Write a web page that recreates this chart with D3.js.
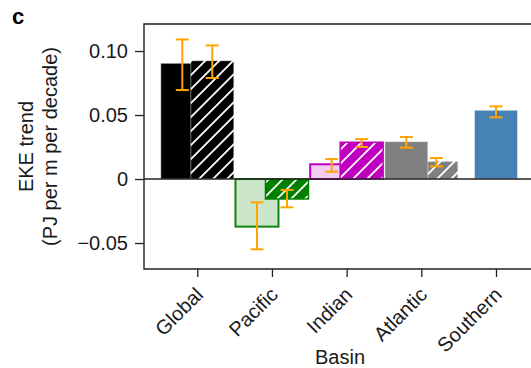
<!DOCTYPE html>
<html>
<head>
<meta charset="utf-8">
<script src="https://cdn.jsdelivr.net/npm/d3@7/dist/d3.min.js"></script>
<style>
  html, body { margin: 0; padding: 0; background: #fff; }
  svg { display: block; font-family: "Liberation Sans", Arial, Helvetica, sans-serif; }
</style>
</head>
<body>
<svg id="chart" width="531" height="368"></svg>
<script>
// Basin-mean EKE trends: full-period bars (solid) and comparison bars (hatched)
const basins = ["Global", "Pacific", "Indian", "Atlantic", "Southern"];

const solidValues = [0.0904, -0.0372, 0.0115, 0.0292, 0.0537];
const solidErrLow = [0.0695, -0.0549, 0.0057, 0.0245, 0.0482];
const solidErrHigh = [0.1090, -0.0182, 0.0156, 0.0328, 0.0568];

const hatchValues = [0.0924, -0.0156, 0.0287, 0.0138, null];
const hatchErrLow = [0.0789, -0.0221, 0.0250, 0.0099, null];
const hatchErrHigh = [0.1044, -0.0086, 0.0312, 0.0164, null];

// which of the pair sits in front, per basin
const frontLayer = ["hatch", "hatch", "hatch", "solid", "solid"];

const yTicks = [-0.05, 0, 0.05, 0.10];
const yTickLabels = ["\u22120.05", "0", "0.05", "0.10"];

const solidFill = ["#000000", "#cce6cc", "#f2ccf2", "#808080", "#4682b4"];
const solidStroke = ["rgba(255,255,255,0.45)", "#0f860f", "#bf00bf", "rgba(255,255,255,0.45)", "rgba(255,255,255,0.45)"];
const solidStrokeWidth = [1, 2, 2, 1, 1];
const hatchFill = ["#000000", "#008000", "#bf00bf", "#808080", null];

const svg = d3.select("#chart");
const plot = { left: 144, right: 536, top: 24, bottom: 269 };

const x = d3.scalePoint().domain(basins).range([197.3, 496]);
const y = d3.scaleLinear().domain([-0.0703, 0.1211]).range([plot.bottom, plot.top]);

const barW = 43;
const pairOffset = 15;

// white diagonal hatch patterns, one per fill colour
const defs = svg.append("defs");
const hp = 14;
hatchFill.forEach((c, i) => {
  if (!c) return;
  const p = defs.append("pattern")
    .attr("id", "hatch" + i)
    .attr("patternUnits", "userSpaceOnUse")
    .attr("width", hp).attr("height", hp);
  p.append("rect").attr("width", hp).attr("height", hp).attr("fill", c);
  p.append("path")
    .attr("d", `M-2,${hp + 2} L${hp + 2},-2 M-2,2 L2,-2 M${hp - 2},${hp + 2} L${hp + 2},${hp - 2}`)
    .attr("stroke", "#ffffff").attr("stroke-width", 1.8);
});

const clip = defs.append("clipPath").attr("id", "plotClip");
clip.append("rect").attr("x", plot.left).attr("y", plot.top)
  .attr("width", plot.right - plot.left).attr("height", plot.bottom - plot.top);

const g = svg.append("g").attr("clip-path", "url(#plotClip)");

function solidCx(i) { return hatchValues[i] == null ? x(basins[i]) : x(basins[i]) - pairOffset; }
function hatchCx(i) { return x(basins[i]) + pairOffset; }

function drawSolid(i) {
  const v = solidValues[i];
  g.append("rect")
    .attr("x", solidCx(i) - barW / 2)
    .attr("y", y(Math.max(0, v)))
    .attr("width", barW)
    .attr("height", Math.abs(y(v) - y(0)))
    .attr("fill", solidFill[i])
    .attr("stroke", solidStroke[i])
    .attr("stroke-width", solidStrokeWidth[i]);
}
function drawHatch(i) {
  const v = hatchValues[i];
  if (v == null) return;
  g.append("rect")
    .attr("x", hatchCx(i) - barW / 2)
    .attr("y", y(Math.max(0, v)))
    .attr("width", barW)
    .attr("height", Math.abs(y(v) - y(0)))
    .attr("fill", "url(#hatch" + i + ")")
    .attr("stroke", i === 1 || i === 2 ? hatchFill[i] : "rgba(255,255,255,0.45)")
    .attr("stroke-width", i === 1 || i === 2 ? 1.5 : 1);
}

basins.forEach((b, i) => {
  if (frontLayer[i] === "hatch") { drawSolid(i); drawHatch(i); }
  else { drawHatch(i); drawSolid(i); }
});

// zero line
svg.append("line")
  .attr("x1", plot.left).attr("x2", plot.right)
  .attr("y1", y(0)).attr("y2", y(0))
  .attr("stroke", "#222").attr("stroke-width", 1.3);

// error bars
function errBar(cx, lo, hi) {
  const eg = svg.append("g").attr("stroke", "#ffa500").attr("stroke-width", 2).attr("fill", "none");
  const cap = 6.5;
  eg.append("line").attr("x1", cx).attr("x2", cx).attr("y1", y(lo)).attr("y2", y(hi));
  eg.append("line").attr("x1", cx - cap).attr("x2", cx + cap).attr("y1", y(lo)).attr("y2", y(lo));
  eg.append("line").attr("x1", cx - cap).attr("x2", cx + cap).attr("y1", y(hi)).attr("y2", y(hi));
}
basins.forEach((b, i) => {
  errBar(solidCx(i), solidErrLow[i], solidErrHigh[i]);
  if (hatchValues[i] != null) errBar(hatchCx(i), hatchErrLow[i], hatchErrHigh[i]);
});

// frame
const frame = svg.append("g").attr("stroke", "#222").attr("stroke-width", 1.4).attr("fill", "none");
frame.append("path")
  .attr("d", `M${plot.right},${plot.top} L${plot.left},${plot.top} L${plot.left},${plot.bottom} L${plot.right},${plot.bottom}`);

// y axis
const yAxis = d3.axisLeft(y).tickValues(yTicks)
  .tickFormat((d, i) => yTickLabels[i])
  .tickSize(9).tickPadding(7);
const yg = svg.append("g").attr("transform", `translate(${plot.left},0)`).call(yAxis);
yg.select(".domain").remove();
yg.selectAll(".tick line").attr("stroke", "#222").attr("stroke-width", 1.3);
yg.selectAll(".tick text").attr("font-size", 20).attr("fill", "#1a1a1a")
  .attr("font-family", "'Liberation Sans', Arial, sans-serif");

// x axis
const xAxis = d3.axisBottom(x).tickSize(8).tickFormat("");
const xg = svg.append("g").attr("transform", `translate(0,${plot.bottom})`).call(xAxis);
xg.select(".domain").remove();
xg.selectAll(".tick line").attr("stroke", "#222").attr("stroke-width", 1.3);

svg.append("g").selectAll("text").data(basins).join("text")
  .attr("transform", d => `translate(${x(d) + 7},${plot.bottom + 27}) rotate(-45)`)
  .attr("text-anchor", "end")
  .attr("font-size", 20)
  .attr("fill", "#1a1a1a")
  .text(d => d);

// axis titles
svg.append("text")
  .attr("x", (plot.left + plot.right) / 2).attr("y", 364)
  .attr("text-anchor", "middle").attr("font-size", 20).attr("fill", "#1a1a1a")
  .text("Basin");

const yMid = (plot.top + plot.bottom) / 2;
svg.append("text")
  .attr("transform", `translate(33,${yMid}) rotate(-90)`)
  .attr("text-anchor", "middle").attr("font-size", 20).attr("fill", "#1a1a1a")
  .text("EKE trend");
svg.append("text")
  .attr("transform", `translate(57,${yMid}) rotate(-90)`)
  .attr("text-anchor", "middle").attr("font-size", 20).attr("fill", "#1a1a1a")
  .text("(PJ per m per decade)");

// panel letter
svg.append("text")
  .attr("x", 12).attr("y", 24)
  .attr("font-size", 22).attr("font-weight", "bold").attr("fill", "#000")
  .text("c");
</script>
</body>
</html>
